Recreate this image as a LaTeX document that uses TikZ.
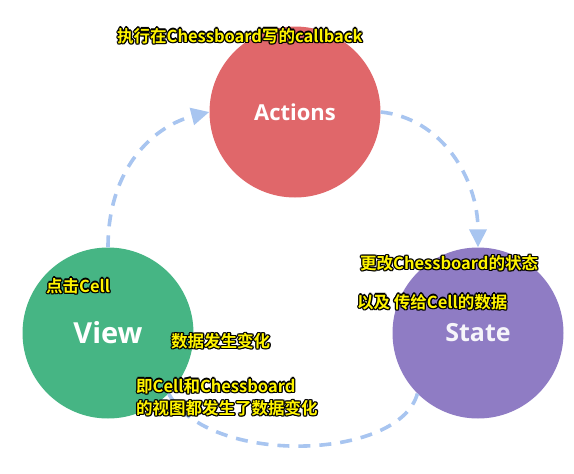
\documentclass[tikz,border=0pt]{standalone}
\usepackage{fontspec}
\usetikzlibrary{arrows.meta, positioning}
\newfontfamily\circlefont{Open Sans}
\newfontfamily\labelfont{Noto Sans CJK SC Bold}
\definecolor{actionsred}{HTML}{E0676A}
\definecolor{viewgreen}{HTML}{46B584}
\definecolor{statepurple}{HTML}{8F7CC4}
\definecolor{flowblue}{HTML}{A8C5F0}
\definecolor{labelyellow}{HTML}{FFF400}
% black rim round yellow text
\newcommand\rimcopy[3]{\rlap{\hspace*{#1}\raisebox{#2}{#3}}}
\newcommand\rimtext[1]{{\color{black}%
    \rimcopy{1.3pt}{0pt}{#1}\rimcopy{-1.3pt}{0pt}{#1}%
    \rimcopy{0pt}{1.3pt}{#1}\rimcopy{0pt}{-1.3pt}{#1}%
    \rimcopy{.95pt}{.95pt}{#1}\rimcopy{-.95pt}{.95pt}{#1}%
    \rimcopy{.95pt}{-.95pt}{#1}\rimcopy{-.95pt}{-.95pt}{#1}}%
  \textcolor{labelyellow}{#1}}

\begin{document}
\begin{tikzpicture}[
    x=1pt, y=-1pt,
    bubble/.style={circle, minimum size=171pt, inner sep=0pt,
        text=white, font=\circlefont\bfseries},
    flow/.style={-{Triangle[length=18pt, width=17pt]}, line width=3.6pt,
        flowblue, dash pattern=on 12pt off 9pt},
    flowplain/.style={line width=3.6pt, flowblue, dash pattern=on 12pt off 9pt},
    tag/.style={anchor=west, inner sep=0pt, font=\labelfont\fontsize{16.5}{18}\selectfont},
]
\useasboundingbox (0,0) rectangle (574,474);

% === Circles ===
\node[bubble, fill=actionsred, font=\circlefont\bfseries\fontsize{22}{24}\selectfont] (actions) at (295,112) {Actions};
\node[bubble, fill=viewgreen, font=\circlefont\bfseries\fontsize{29}{32}\selectfont] (view) at (108,333) {View};
\node[bubble, fill=statepurple, text=white!92!statepurple, font=\circlefont\bfseries\fontsize{25}{28}\selectfont] (state) at (478,333) {State};

% === Flow arrows ===
\draw[flow] (view.north) .. controls +(0,-80) and +(-55,14) .. (actions.west);
\draw[flow] (actions.east) .. controls +(60,6) and +(0,-70) .. (state.north);
\draw[flowplain] (state.-135) .. controls +(-18,67) and +(40,73) .. (view.-45);

% === Labels ===
\node[tag] (callback) at (117,36) {\rimtext{执行在Chessboard写的callback}};
\node[tag] (change) at (360,263) {\rimtext{更改Chessboard的状态}};
\node[tag] (pass) at (357,302) {\rimtext{以及 传给Cell的数据}};
\node[tag] (click) at (46,286) {\rimtext{点击Cell}};
\node[tag] (datachange) at (171,341) {\rimtext{数据发生变化}};
\node[tag] (viewline1) at (136,386) {\rimtext{即Cell和Chessboard}};
\node[tag] (viewline2) at (136,408) {\rimtext{的视图都发生了数据变化}};

\end{tikzpicture}
\end{document}
